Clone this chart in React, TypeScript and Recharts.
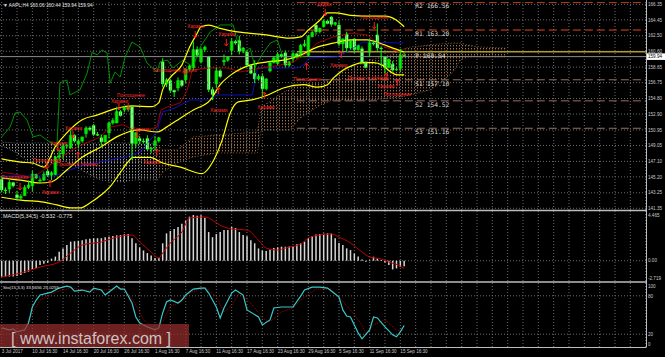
import React from 'react';
import {
  ComposedChart,
  Line,
  Area,
  XAxis,
  YAxis,
  ReferenceLine,
  ReferenceArea,
  ReferenceDot,
} from 'recharts';

// ---- axes ----
const X_DOMAIN: [number, number] = [-0.44, 168.09];
const PRICE_DOMAIN: [number, number] = [141.14, 166.88];
const MACD_DOMAIN: [number, number] = [-1.98, 4.854];

const priceTicks = [166.35, 164.45, 162.5, 160.6, 158.65, 156.75, 154.8, 152.9, 150.95, 149.05, 147.1, 145.2, 143.25, 141.35];
const lastPrice = 159.94;
const gridIdx = [0, 4, 8, 12, 16, 20, 24, 28, 32, 36, 40, 44, 48, 52, 56, 60, 64, 68, 72, 76, 80, 84, 88, 92, 96, 100, 104, 108, 112, 116, 120, 124, 128, 132, 136, 140, 144, 148, 152, 156, 160, 164, 168];
const dateTicks = [0, 8, 16, 24, 32, 40, 48, 56, 64, 72, 80, 88, 96, 104];
const dateLabels = ['3 Jul 2017', '10 Jul 16:30', '14 Jul 16:30', '20 Jul 16:30', '26 Jul 16:30', '1 Aug 16:30', '7 Aug 16:30', '11 Aug 16:30', '17 Aug 16:30', '23 Aug 16:30', '29 Aug 16:30', '5 Sep 16:30', '11 Sep 16:30', '15 Sep 16:30'];

// ---- AAPL H4 candles [open, high, low, close] ----
const candles: [number, number, number, number][] = [
  [144.9, 145.3, 143.3, 143.6], [143.6, 143.9, 143.1, 143.5],
  [143.7, 144.8, 143.2, 144.5], [144.5, 144.6, 143.9, 144.1],
  [143.0, 143.5, 142.4, 142.6], [142.6, 143.1, 142.4, 142.8],
  [142.9, 144.2, 142.9, 143.9], [143.9, 144.75, 143.7, 144.2],
  [144.1, 145.95, 143.4, 145.5], [145.5, 145.6, 144.9, 145.1],
  [144.7, 145.1, 144.4, 144.8], [144.8, 145.85, 144.7, 145.5],
  [145.9, 146.2, 145.2, 145.4], [145.4, 145.9, 144.8, 145.7],
  [145.5, 147.8, 145.4, 147.6], [147.6, 148.5, 147.3, 147.8],
  [148.0, 149.3, 147.4, 149.0], [149.0, 149.2, 148.7, 149.0],
  [148.8, 150.9, 148.6, 150.3], [150.3, 150.4, 149.4, 149.6],
  [149.2, 149.9, 148.7, 149.6], [149.6, 150.1, 149.4, 150.1],
  [150.5, 151.4, 150.0, 151.2], [151.2, 151.4, 150.8, 151.0],
  [151.5, 151.7, 150.2, 150.4], [150.4, 150.7, 150.2, 150.3],
  [150.0, 150.4, 148.9, 149.5], [149.5, 150.3, 149.4, 150.3],
  [150.6, 152.0, 149.9, 151.8], [151.8, 152.4, 151.6, 152.1],
  [151.8, 153.8, 151.8, 153.2], [153.2, 153.4, 152.6, 152.7],
  [153.4, 153.9, 153.1, 153.7], [153.7, 153.8, 153.2, 153.5],
  [153.8, 154.0, 147.3, 149.3], [149.3, 150.7, 148.8, 150.6],
  [149.9, 150.2, 149.2, 149.6], [149.6, 149.9, 149.3, 149.5],
  [149.9, 150.3, 148.5, 148.6], [148.6, 148.9, 148.1, 148.7],
  [149.1, 150.2, 148.4, 149.6], [149.6, 150.1, 149.4, 150.0],
  [159.3, 159.75, 156.2, 156.6], [156.6, 157.3, 156.2, 157.1],
  [157.0, 157.2, 155.5, 155.8], [155.8, 155.9, 155.0, 155.6],
  [156.1, 157.4, 155.7, 157.0], [157.0, 157.1, 156.2, 156.4],
  [157.1, 158.5, 156.7, 158.4], [158.4, 158.9, 158.2, 158.8],
  [158.6, 161.8, 158.3, 160.8], [160.8, 161.2, 159.9, 160.1],
  [159.3, 161.0, 159.1, 160.8], [160.8, 161.3, 160.5, 161.1],
  [159.9, 160.0, 155.6, 155.9], [155.9, 156.2, 154.6, 155.3],
  [156.6, 158.6, 156.1, 158.2], [158.2, 158.4, 157.3, 157.5],
  [159.3, 160.2, 158.8, 159.5], [159.5, 160.0, 159.3, 159.9],
  [160.7, 162.2, 160.1, 161.8], [161.8, 162.0, 161.4, 161.6],
  [161.9, 162.5, 160.2, 160.6], [160.6, 161.1, 160.4, 161.0],
  [160.5, 160.7, 158.7, 158.9], [158.9, 159.0, 157.8, 157.9],
  [157.9, 159.5, 156.7, 157.2], [157.2, 157.8, 157.0, 157.5],
  [157.5, 157.9, 155.1, 156.0], [156.0, 157.3, 155.8, 157.2],
  [158.2, 159.4, 158.0, 159.2], [159.2, 160.0, 159.1, 159.8],
  [159.1, 160.5, 158.9, 160.2], [160.2, 160.3, 159.8, 160.0],
  [160.4, 160.7, 158.6, 158.9], [158.9, 159.4, 158.7, 159.3],
  [159.7, 160.6, 159.3, 160.3], [160.3, 160.4, 159.7, 159.9],
  [160.1, 161.5, 159.9, 161.3], [161.3, 162.0, 161.1, 161.5],
  [160.1, 162.6, 160.0, 162.4], [162.4, 163.1, 162.3, 162.9],
  [163.8, 163.9, 162.6, 163.0], [163.0, 163.5, 162.8, 163.4],
  [163.6, 164.5, 163.5, 164.3], [164.3, 164.4, 163.9, 164.0],
  [164.8, 164.9, 163.6, 163.9], [163.9, 164.2, 163.7, 164.1],
  [163.8, 164.3, 161.2, 161.5], [161.5, 162.2, 160.6, 162.1],
  [162.7, 163.0, 160.5, 161.0], [161.0, 162.0, 160.8, 161.9],
  [162.1, 162.2, 160.4, 160.8], [160.8, 161.4, 160.6, 161.3],
  [160.9, 161.2, 159.0, 159.2], [159.2, 159.4, 158.5, 158.6],
  [160.5, 162.1, 159.9, 161.7], [161.7, 161.9, 161.3, 161.5],
  [162.6, 164.0, 160.6, 161.0], [161.0, 161.2, 158.8, 160.9],
  [159.9, 160.0, 157.9, 158.6], [158.6, 159.7, 158.5, 159.6],
  [159.0, 159.4, 158.1, 158.3], [158.3, 158.6, 158.2, 158.3],
  [158.5, 160.9, 158.0, 160.1], [160.06, 160.44, 159.94, 159.94],
];

// ---- indicator lines, [bar index, price] ----
const bbUpper = [[0, 147.4], [5, 147.0], [8, 146.9], [11, 146.4], [14, 148.9], [17, 150.6], [21, 152.2], [25, 152.8], [30, 153.6], [34, 153.9], [39, 153.8], [41, 154.3], [42, 155.9], [44, 157.4], [47, 158.9], [49, 161.1], [51, 162.8], [52, 163.6], [54, 163.8], [57, 163.4], [61, 163.0], [65, 162.8], [69, 162.6], [75, 162.2], [78, 162.35], [80, 163.2], [83, 164.4], [85, 165.3], [87, 165.3], [91, 165.0], [95, 164.9], [100, 164.9], [103, 164.4], [105, 163.6]];
const bbMiddle = [[0, 145.06], [5, 144.8], [10, 144.45], [13, 144.6], [17, 146.05], [21, 147.6], [26, 148.9], [30, 150.1], [33, 150.7], [36, 150.95], [40.5, 150.7], [43, 151.3], [46.6, 152.4], [50, 153.4], [54.4, 154.6], [57, 156.5], [60.4, 157.9], [64.8, 158.9], [69.3, 159.3], [73.5, 159.5], [77.9, 160.1], [82.3, 161.1], [86.5, 161.6], [91, 162.0], [95.4, 162.0], [98, 161.7], [101.4, 161.1], [105, 160.5]];
const bbLower = [[0, 142.7], [5, 142.35], [11, 142.1], [14.4, 141.76], [18, 141.4], [20.5, 141.4], [23, 142.0], [26, 143.0], [28.3, 144.0], [30.9, 145.7], [32.7, 146.9], [34.3, 147.6], [38.7, 147.6], [42, 146.9], [46.6, 146.4], [52.3, 145.6], [54.9, 146.9], [57.5, 149.7], [59.6, 153.0], [61.7, 154.4], [64.8, 154.6], [69.3, 155.2], [73.5, 156.1], [78.7, 156.5], [82.3, 156.2], [85, 156.5], [86.5, 157.3], [89.1, 158.3], [91.7, 158.9], [94.3, 159.2], [97, 159.2], [99.3, 158.9], [101.4, 158.1], [103.2, 157.7], [105, 157.7]];
const tenkan = [[0, 145.8], [5, 145.4], [8, 145.07], [11, 146.05], [14.4, 147.27], [19.7, 148.87], [25.7, 150.09], [28.3, 151.3], [31.7, 151.6], [34.3, 150.95], [37.9, 150.95], [40.5, 151.3], [41.6, 153.4], [43.2, 153.77], [46.6, 154.26], [48.4, 155.85], [49.7, 158.3], [54.4, 158.55], [58.8, 158.55], [62.2, 158.06], [64.8, 158.3], [69.3, 158.67], [72.7, 158.9], [76.1, 159.3], [79.7, 160.4], [82.3, 161.6], [86.5, 162.35], [91, 162.8], [95.4, 162.6], [98, 161.6], [100.6, 161.0], [104, 160.5], [105, 160.5]];
const kijun = [[0, 145.31], [14, 145.31], [17.8, 146.05], [21.2, 146.66], [28.3, 147.27], [32.2, 147.64], [36.1, 148.25], [38.7, 149.72], [40.5, 150.7], [41.9, 153.15], [45.2, 153.64], [49.2, 154.63], [54.4, 154.63], [56.2, 155.24], [65.4, 155.24], [66.7, 158.55], [77.1, 158.55], [78.7, 158.91], [80.5, 159.77], [87.5, 159.9], [90.9, 160.75], [94.3, 161.73], [104.8, 161.6]];
const chikou = [[0, 150.09], [2.2, 151.32], [3.5, 153.03], [4.8, 153.15], [6.6, 152.17], [8.2, 150.09], [10, 150.34], [11.8, 149.72], [14.4, 148.87], [15.2, 156.71], [17, 157.08], [17.8, 155.24], [20.4, 155.85], [22.3, 157.93], [23.6, 160.51], [24.9, 160.14], [26.2, 160.75], [27.5, 160.38], [28.3, 156.71], [29.6, 158.06], [30.9, 157.44], [32.2, 159.9], [34, 161.73], [36.1, 161.12], [37.9, 159.16], [40.5, 158.06], [41.3, 159.28], [43.2, 159.53], [44.7, 158.55], [47.3, 159.53], [49.9, 158.67], [51.8, 161.12], [54.4, 162.96], [57, 163.82], [60.4, 163.82], [61.4, 161.98], [63, 160.38], [64.8, 161.0], [66.1, 158.67], [68.2, 160.38], [70.1, 161.61], [71.9, 161.98], [73.2, 160.14], [74.5, 159.53], [76.1, 159.9], [79, 159.94]];
// cloud [bar index, upper span, lower span]
const cloudGray = [[0, 149.48, 148.99], [3.5, 149.36, 148.25], [7.4, 149.36, 146.9], [11.3, 149.36, 146.54], [16.5, 149.36, 147.15], [21.7, 149.36, 145.8], [25.7, 149.36, 144.82], [30.9, 149.36, 144.58], [34.8, 149.36, 144.82], [38.7, 149.36, 144.82], [40.6, 149.11, 144.82]];
const cloudBrown = [[40.6, 149.11, 144.82], [42.1, 148.5, 145.8], [45.8, 148.5, 146.9], [49.9, 150.09, 147.64], [56.2, 150.34, 148.13], [66.7, 150.7, 148.13], [67.7, 153.77, 150.95], [75.3, 156.1, 150.95], [77.9, 156.46, 152.42], [83.1, 156.7, 154.01], [86.5, 157.32, 154.63], [90.9, 158.67, 154.63], [96.2, 159.53, 154.63], [101.4, 160.14, 154.87], [104, 160.75, 154.99], [106.6, 161.12, 155.24], [111.8, 161.37, 155.85], [114.4, 161.49, 156.71], [117.8, 161.61, 158.06], [119.7, 161.61, 159.53], [121.5, 161.37, 159.9], [124.9, 161.12, 159.9], [131.4, 161.0, 159.9]];

// ---- pivots ----
const pivotNames = ['R2', 'R1', 'P', 'S1', 'S2', 'S3'];
const pivotLevels = [166.56, 163.2, 160.54, 157.1, 154.52, 151.16];
const pivotColors = ['#b8401c', '#e0481a', '#b09a28', '#9c6e62', '#9c6e62', '#9c6e62'];
const pivotFrom = 77;
const pivotLabelAt = 107.9;

// ---- candle pattern marks ----
const arrowsDown = [[4.8, 143.96], [11.8, 146.54], [14.7, 148.74], [18.6, 150.34], [30.6, 153.77], [33, 153.77], [35.3, 150.34], [47.9, 158.06], [50.5, 162.59], [58.6, 161.61], [84.4, 165.29], [97.2, 163.7]];
const arrowsUp = [[12.6, 144.45], [19.9, 147.88], [40.5, 148.25], [56.5, 155.85], [68.5, 155.24], [79.5, 158.79], [88.6, 160.26], [100.3, 157.57], [103.2, 156.83]];
const patternLabels: [number, number, string][] = [
  [-0.2, 145.19, 'Поглощение'], [10.5, 143.35, 'Харами'], [8.2, 147.27, 'Поглощение'],
  [14.4, 146.78, 'Просвет в облаках'], [12.6, 149.36, 'Харами'], [16.5, 151.19, 'Харами'],
  [30.1, 155.24, 'Поглощение'], [28.5, 154.5, 'Харами'], [34, 151.07, 'Харами'],
  [36.9, 147.03, 'Харами'], [39.5, 158.3, 'Поглощение Доджи'], [48.4, 163.7, 'Харами'],
  [56.5, 162.71, 'Харами'], [54.4, 153.4, 'Харами'], [66.7, 153.77, 'Харами'],
  [76.1, 157.2, 'Поглощение'], [82.3, 166.39, 'Доджи'], [93.6, 164.8, 'Поглощение'],
  [85.7, 158.91, 'Харами'], [90.2, 157.32, 'Просвет в облаках'], [98, 156.34, 'Харами'],
  [99.6, 155.36, 'Поглощение'],
];

// ---- MACD ----
const macdHist = [-1.56, -1.56, -1.55, -1.55, -1.5, -1.4, -1.2, -1.07, -0.85, -0.7, -0.42, -0.3, -0.2, 0.2, 0.4, 0.88, 1.2, 1.53, 1.86, 1.9, 1.95, 2.0, 2.09, 2.15, 2.19, 2.2, 2.2, 2.29, 2.35, 2.41, 2.48, 2.51, 2.58, 2.6, 2.2, 1.7, 1.3, 1.0, 0.75, 0.5, 0.26, 0.3, 1.7, 2.67, 2.9, 3.1, 3.3, 3.6, 3.9, 4.3, 4.46, 4.4, 4.45, 4.2, 2.8, 2.3, 2.6, 2.8, 3.0, 3.0, 3.3, 3.2, 2.8, 2.5, 2.4, 2.0, 1.7, 1.2, 1.0, 0.95, 1.1, 1.24, 1.3, 1.37, 1.37, 1.4, 1.44, 1.6, 1.7, 1.86, 2.19, 2.41, 2.55, 2.61, 2.65, 2.67, 2.65, 2.19, 1.73, 1.53, 1.21, 1.04, 0.7, 0.41, 0.12, -0.1, 0.07, 0.39, 0.21, 0.07, -0.18, -0.42, -0.85, -0.75, -0.62, -0.53];
const macdSignal = [[0, -1.59], [5, -1.2], [10, -0.62], [15, -0.13], [18, 0.75], [21, 1.53], [26, 1.83], [30, 2.31], [34, 2.51], [36, 1.83], [39, 0.85], [41, 0.26], [42, 0.75], [44, 1.73], [47, 2.8], [49, 4.17], [53, 4.27], [55, 3.97], [57, 3.46], [60, 3.1], [64, 3.0], [67, 2.0], [69, 1.24], [72, 1.04], [74, 1.24], [78, 1.63], [80, 2.22], [83, 2.51], [86, 2.61], [88, 2.31], [91, 1.73], [94, 0.85], [96, 0.36], [99, 0.17], [101, -0.13], [104, -0.52], [105, -0.775]];
const macdTicks = [4.465, 0];

// ---- Stochastic ----
const stochMain = [[0, 29.9], [2, 26.7], [3, 28.3], [4, 23.6], [6, 26.7], [7, 37.6], [8, 62.5], [9, 73.4], [10, 81.2], [12, 84.3], [13, 85.8], [15, 92.1], [17, 95.2], [18, 93.6], [19, 87.4], [21, 89.0], [23, 85.8], [24, 92.1], [26, 89.0], [27, 81.2], [28, 85.8], [30, 95.2], [31, 90.5], [32, 90.5], [34, 68.7], [35, 46.9], [36, 37.6], [38, 31.4], [40, 26.7], [41, 29.9], [42, 53.2], [43, 70.4], [44, 73.4], [46, 68.7], [47, 73.4], [48, 81.2], [50, 90.5], [52, 92.1], [53, 92.1], [54, 84.3], [56, 62.5], [57, 45.4], [58, 61.0], [60, 84.3], [61, 89.0], [63, 81.2], [64, 57.9], [67, 47.0], [68, 34.5], [70, 42.3], [71, 61.0], [73, 62.5], [76, 62.5], [78, 79.6], [79, 89.0], [81, 93.6], [83, 93.6], [85, 92.1], [86, 87.4], [88, 78.0], [89, 57.9], [90, 48.5], [91, 46.9], [92, 34.5], [93, 22.1], [94, 12.8], [96, 26.7], [97, 46.9], [98, 45.4], [100, 31.4], [102, 19.0], [103, 15.9], [104, 23.6], [105, 33.7]];
const stochSignal = [[0, 26.7], [5, 25.2], [7, 42.3], [10, 73.4], [14, 85.8], [18, 92.1], [22, 89.0], [26, 89.0], [30, 90.5], [32, 92.1], [35, 65.6], [37, 42.3], [40, 29.9], [42, 39.2], [44, 64.1], [47, 70.3], [49, 84.3], [53, 93.6], [56, 78.0], [58, 54.7], [60, 65.6], [62, 84.3], [65, 68.7], [68, 45.4], [70, 39.2], [73, 54.7], [76, 61.0], [78, 73.4], [82, 90.5], [86, 90.5], [88, 78.0], [91, 57.9], [94, 34.5], [95, 20.5], [97, 34.5], [100, 42.3], [103, 26.7], [105, 25.0]];
const stochTicks = [100, 80, 20, 0];

const FONT = '"Liberation Sans", Arial, sans-serif';
const MONO = '"DejaVu Sans Mono", monospace';
const AXIS_TXT = '#c8c8c8';
const GRID = '#6c6c6c';

// merge sparse series into one table keyed by bar index
function mergeSeries(series: Record<string, number[][]>) {
  const rows = new Map<number, any>();
  Object.entries(series).forEach(([key, pts]) => {
    pts.forEach(([i, a, b]) => {
      const row = rows.get(i) ?? { i };
      row[key] = b === undefined ? a : [b, a];
      rows.set(i, row);
    });
  });
  return [...rows.values()].sort((p, q) => p.i - q.i);
}

const mainRows = mergeSeries({ bbU: bbUpper, bbM: bbMiddle, bbL: bbLower, tenkan, kijun, chikou, cloudGray, cloudBrown });
const macdRows = mergeSeries({ sig: macdSignal });
const stochRows = mergeSeries({ main: stochMain, sig: stochSignal });

const PriceTick = ({ x, y, payload }: any) => {
  const v = payload.value;
  if (v === lastPrice) {
    return (
      <g>
        <rect x={x - 1} y={y - 3.3} width={18} height={6.6} fill="#ffffff" />
        <text x={x} y={y} dy={1.7} fontSize={4.6} fill="#000" fontFamily={FONT}>{v.toFixed(2)}</text>
      </g>
    );
  }
  return <text x={x} y={y} dy={1.7} fontSize={4.6} fill={AXIS_TXT} fontFamily={FONT}>{v.toFixed(2)}</text>;
};

const MacdTick = ({ x, y, payload }: any) => (
  <text x={x} y={y} dy={1.7} fontSize={4.6} fill={AXIS_TXT} fontFamily={FONT}>
    {payload.value === 0 ? '0.00' : String(payload.value)}
  </text>
);

const StochTick = ({ x, y, payload }: any) => {
  const shift = payload.value === 100 ? 3 : payload.value === 0 ? -3 : 0;
  return <text x={x} y={y + shift} dy={1.7} fontSize={4.6} fill={AXIS_TXT} fontFamily={FONT}>{payload.value}</text>;
};

const DateTick = ({ x, y, payload }: any) => (
  <text x={x} y={y + 6} fontSize={4.6} fill={AXIS_TXT} fontFamily={FONT}>
    {dateLabels[dateTicks.indexOf(payload.value)]}
  </text>
);

const ArrowDown = ({ cx, cy }: any) => (
  <g stroke="#ff1a1a" strokeWidth={1} fill="none">
    <line x1={cx} y1={cy - 4} x2={cx} y2={cy + 2.5} />
    <path d={`M${cx - 2},${cy + 0.5} L${cx},${cy + 3} L${cx + 2},${cy + 0.5}`} />
  </g>
);

const ArrowUp = ({ cx, cy }: any) => (
  <g stroke="#ff1a1a" strokeWidth={1} fill="none">
    <line x1={cx} y1={cy + 4} x2={cx} y2={cy - 2.5} />
    <path d={`M${cx - 2},${cy - 0.5} L${cx},${cy - 3} L${cx + 2},${cy - 0.5}`} />
  </g>
);

const textShape = (text: string, size: number, color: string, family: string, dy: number) => (p: any) => (
  <text x={p.cx} y={p.cy} dy={dy} fontSize={size} fill={color} fontFamily={family}>{text}</text>
);

const vGrid = (prefix: string) =>
  gridIdx.map((g) => <ReferenceLine key={prefix + g} x={g} stroke={GRID} strokeDasharray="1 2" />);

const lineProps = { dot: false, activeDot: false, connectNulls: true, isAnimationActive: false } as const;

const PricePanel = () => (
  <ComposedChart width={665} height={210} data={mainRows} margin={{ top: 0, right: 0, bottom: 0, left: 0 }}>
    <defs>
      <pattern id="dotsBrown" width={3} height={3} patternUnits="userSpaceOnUse">
        <rect width={1} height={1.4} fill="#a36e44" />
      </pattern>
      <pattern id="dotsGray" width={3} height={3} patternUnits="userSpaceOnUse">
        <rect width={1} height={1.4} fill="#9c9c9c" />
      </pattern>
    </defs>
    <XAxis dataKey="i" type="number" domain={X_DOMAIN} allowDataOverflow hide />
    <YAxis
      orientation="right"
      width={19}
      domain={PRICE_DOMAIN}
      allowDataOverflow
      ticks={[...priceTicks, lastPrice]}
      interval={0}
      tick={<PriceTick />}
      tickSize={0}
      tickMargin={2}
      axisLine={false}
      tickLine={false}
    />
    {vGrid('pg')}
    {priceTicks.map((t) => <ReferenceLine key={'ph' + t} y={t} stroke={GRID} strokeDasharray="1 2" />)}

    <Area dataKey="cloudGray" type="linear" fill="url(#dotsGray)" fillOpacity={1} stroke="#7c7c7c" strokeDasharray="1 2" strokeWidth={0.8} {...lineProps} />
    <Area dataKey="cloudBrown" type="linear" fill="url(#dotsBrown)" fillOpacity={1} stroke="#a36e44" strokeDasharray="1 2" strokeWidth={0.8} {...lineProps} />

    {pivotLevels.map((lv, k) => (
      <ReferenceLine
        key={'pv' + k}
        segment={[{ x: pivotFrom, y: lv }, { x: X_DOMAIN[1], y: lv }]}
        stroke={pivotColors[k]}
        strokeWidth={k === 2 ? 1.4 : 1}
        strokeDasharray={k === 2 ? undefined : '8 4'}
      />
    ))}
    <ReferenceLine y={lastPrice} stroke="#8c8c8c" strokeWidth={1} />

    <Line dataKey="chikou" type="linear" stroke="#00a000" strokeWidth={0.9} {...lineProps} />
    <Line dataKey="kijun" type="linear" stroke="#1010d0" strokeWidth={0.9} {...lineProps} />
    <Line dataKey="tenkan" type="linear" stroke="#b00000" strokeWidth={0.9} {...lineProps} />
    <Line dataKey="bbU" type="monotone" stroke="#ffff00" strokeWidth={1.2} {...lineProps} />
    <Line dataKey="bbM" type="monotone" stroke="#ffff00" strokeWidth={1.2} {...lineProps} />
    <Line dataKey="bbL" type="monotone" stroke="#ffff00" strokeWidth={1.2} {...lineProps} />

    {candles.map(([o, h, l, c], i) => {
      const bull = c >= o;
      const lo = Math.min(o, c);
      const hi = Math.max(o, c) - lo < 0.06 ? lo + 0.06 : Math.max(o, c);
      return (
        <React.Fragment key={'cd' + i}>
          <ReferenceLine segment={[{ x: i, y: l }, { x: i, y: h }]} stroke="#00ff00" strokeWidth={1} />
          <ReferenceArea x1={i - 0.36} x2={i + 0.36} y1={lo} y2={hi} fill={bull ? '#00c800' : '#ffffff'} fillOpacity={1} stroke="#00ff00" strokeWidth={0.5} />
        </React.Fragment>
      );
    })}

    {arrowsDown.map(([i, p], k) => <ReferenceDot key={'ad' + k} x={i} y={p} r={0} shape={<ArrowDown />} />)}
    {arrowsUp.map(([i, p], k) => <ReferenceDot key={'au' + k} x={i} y={p} r={0} shape={<ArrowUp />} />)}
    {patternLabels.map(([i, p, t], k) => (
      <ReferenceDot key={'pl' + k} x={i} y={p} r={0} shape={textShape(t, 4.8, '#ff2a2a', FONT, 1.7)} />
    ))}
    {pivotLevels.map((lv, k) => (
      <ReferenceDot
        key={'pt' + k}
        x={pivotLabelAt}
        y={lv}
        r={0}
        shape={textShape(`${pivotNames[k]} ${lv.toFixed(2)}`, 6.3, '#d8d8d8', MONO, 5.8)}
      />
    ))}
  </ComposedChart>
);

const MacdPanel = () => (
  <ComposedChart width={665} height={70} data={macdRows} margin={{ top: 0, right: 0, bottom: 0, left: 0 }}>
    <XAxis dataKey="i" type="number" domain={X_DOMAIN} allowDataOverflow hide />
    <YAxis
      orientation="right"
      width={19}
      domain={MACD_DOMAIN}
      allowDataOverflow
      ticks={macdTicks}
      interval={0}
      tick={<MacdTick />}
      tickSize={0}
      tickMargin={2}
      axisLine={false}
      tickLine={false}
    />
    {vGrid('mg')}
    <ReferenceLine y={0} stroke={GRID} strokeDasharray="1 2" />
    {macdHist.map((v, i) => (
      <ReferenceLine key={'mh' + i} segment={[{ x: i, y: 0 }, { x: i, y: v }]} stroke="#d6d6d6" strokeWidth={1.5} />
    ))}
    <Line dataKey="sig" type="monotone" stroke="#c00000" strokeWidth={1} {...lineProps} />
  </ComposedChart>
);

const StochPanel = () => (
  <ComposedChart width={665} height={74} data={stochRows} margin={{ top: 0, right: 0, bottom: 0, left: 0 }}>
    <XAxis
      dataKey="i"
      type="number"
      domain={X_DOMAIN}
      allowDataOverflow
      ticks={dateTicks}
      interval={0}
      tick={<DateTick />}
      tickSize={0}
      tickMargin={0}
      axisLine={false}
      tickLine={false}
      height={10}
    />
    <YAxis
      orientation="right"
      width={19}
      domain={[0, 100]}
      ticks={stochTicks}
      interval={0}
      tick={<StochTick />}
      tickSize={0}
      tickMargin={2}
      axisLine={false}
      tickLine={false}
    />
    {vGrid('sg')}
    <ReferenceLine y={80} stroke={GRID} strokeDasharray="1 2" />
    <ReferenceLine y={20} stroke={GRID} strokeDasharray="1 2" />
    <Line dataKey="sig" type="linear" stroke="#c00000" strokeWidth={0.8} strokeDasharray="1 1" {...lineProps} />
    <Line dataKey="main" type="linear" stroke="#38c8c8" strokeWidth={1.2} {...lineProps} />
  </ComposedChart>
);

export default function App() {
  return (
    <div style={{ position: 'fixed', left: 0, top: 0, width: 665, height: 357, background: '#000', overflow: 'hidden' }}>
      <div style={{ position: 'absolute', left: 0, top: 0 }}>
        <PricePanel />
      </div>
      <div style={{ position: 'absolute', left: 0, top: 211 }}>
        <MacdPanel />
      </div>
      <div style={{ position: 'absolute', left: 0, top: 283 }}>
        <StochPanel />
      </div>
      <svg width={665} height={357} style={{ position: 'absolute', left: 0, top: 0, pointerEvents: 'none' }}>
        <line x1={0} x2={646} y1={210.5} y2={210.5} stroke="#bdbdbd" strokeWidth={1.6} />
        <line x1={0} x2={646} y1={282} y2={282} stroke="#bdbdbd" strokeWidth={1.6} />
        <line x1={0} x2={646} y1={347.5} y2={347.5} stroke="#bdbdbd" strokeWidth={1} />
        <line x1={646.5} x2={646.5} y1={0} y2={347.5} stroke="#bdbdbd" strokeWidth={1} />
        <text x={3} y={6.8} fontSize={4.8} fill="#e0e0e0" fontFamily={FONT}>▼ AAPL,H4  160.06 160.44 159.94 159.94</text>
        <text x={3} y={218} fontSize={5.5} fill="#e0e0e0" fontFamily={FONT}>MACD(5,34,5) -0.532 -0.775</text>
        <text x={3} y={288.5} fontSize={4.4} fill="#e0e0e0" fontFamily={FONT}>Sto(15,3,3) 33.6656 25.0255</text>
        <text x={648} y={279.5} fontSize={4.6} fill={AXIS_TXT} fontFamily={FONT}>-2.719</text>
        <rect x={0} y={324} width={189} height={23} fill="rgba(150,45,45,0.72)" />
        <text x={11} y={344} fontSize={16} fill="rgba(225,225,225,0.85)" fontFamily={FONT}>[ www.instaforex.com ]</text>
      </svg>
    </div>
  );
}
